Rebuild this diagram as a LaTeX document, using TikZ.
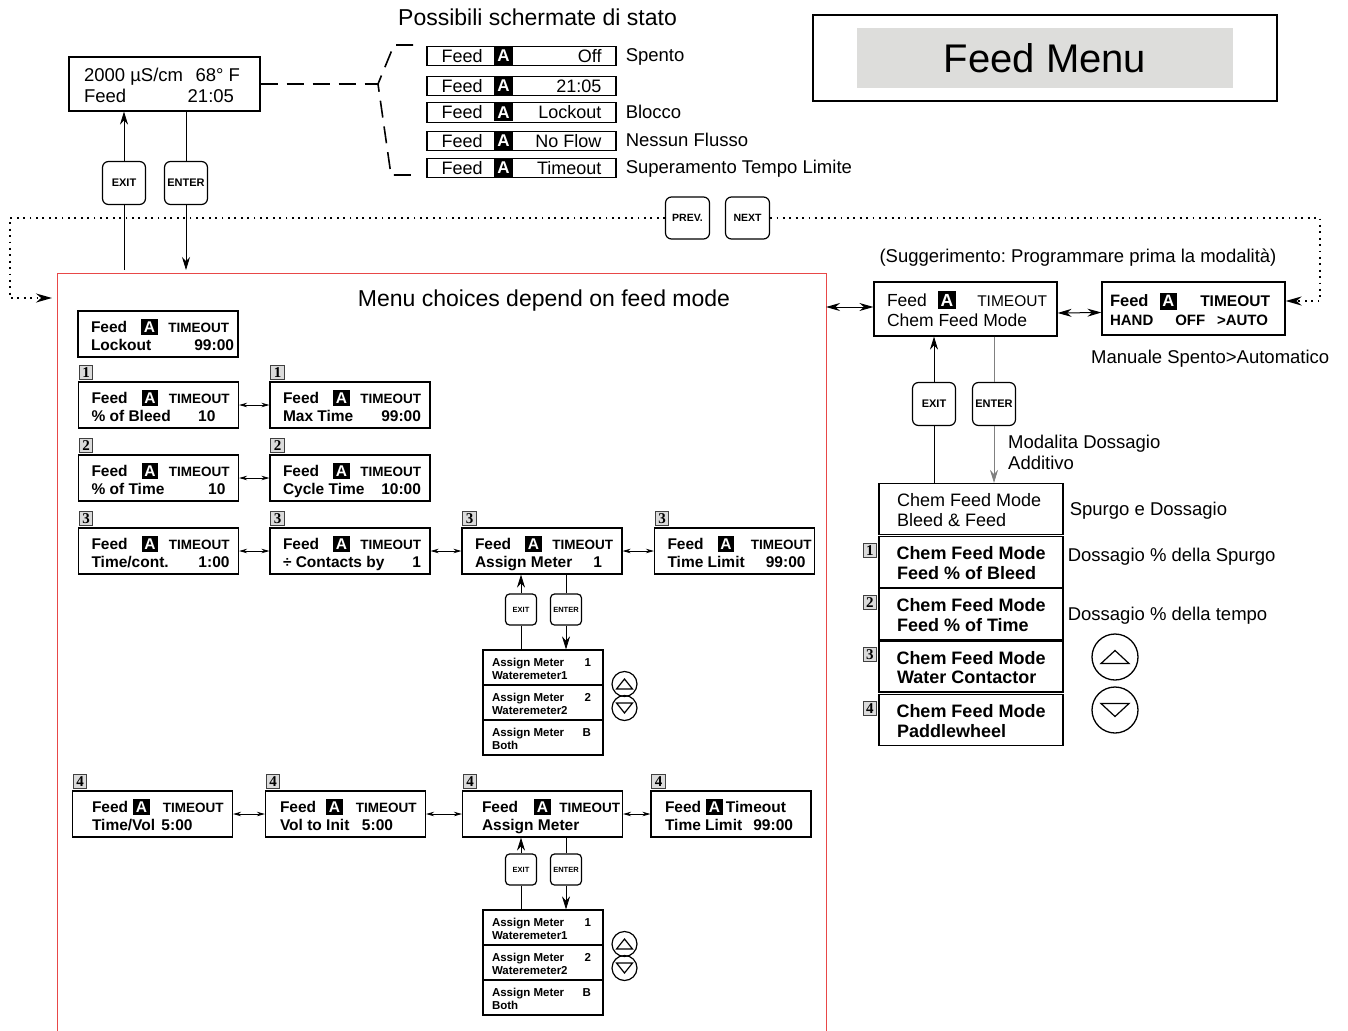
\documentclass[tikz,border=0pt]{standalone}
\usepackage{fontspec}
\setmainfont{Liberation Sans}
\newfontfamily\badgefont{Liberation Serif}
\usetikzlibrary{arrows.meta,positioning}
\frenchspacing

\definecolor{menured}{RGB}{232,72,72}
\definecolor{menugrey}{RGB}{221,221,219}

\newlength\scrw \newlength\scrh \newlength\scrd
\newcommand\scrrow[2]{\makebox[\scrw]{#1\hfill#2}}
\newcommand\scrtwo[4]{\scrrow{\rule{0pt}{\scrh}#1}{#2}\\\scrrow{\rule[-\scrd]{0pt}{\scrd}#3}{#4}}
\newcommand\blkA{{\setlength\fboxsep{2.8pt}\colorbox{black}{\textcolor{white}{\bfseries A}}}}
\newcommand\tmo[1]{{\fontsize{13.5}{18}\selectfont #1}}
\newcommand\feedA{\hspace{4pt}Feed\hspace{14pt}\blkA}
\newcommand\triup[3]{\draw[trian] ([shift={(-#2,#3)}]#1.center) -- ([shift={(#2,#3)}]#1.center) -- ([shift={(0,-#3)}]#1.center) -- cycle;}
\newcommand\tridn[3]{\draw[trian] ([shift={(-#2,-#3)}]#1.center) -- ([shift={(#2,-#3)}]#1.center) -- ([shift={(0,#3)}]#1.center) -- cycle;}

\tikzset{
  linefmt/.style n args={3}{execute at begin node={\setlength\scrw{#1}\setlength\scrh{#2}\setlength\scrd{#3}}},
  scrbox/.style={draw, line width=1.2pt, inner sep=0pt, align=left},
  fscr/.style={scrbox, minimum width=160pt, minimum height=46pt, font=\bfseries\fontsize{15.5}{18}\selectfont, linefmt={142pt}{17.5pt}{3.5pt}},
  mscr/.style={scrbox, minimum width=120pt, minimum height=35pt, font=\bfseries\fontsize{11.5}{13}\selectfont, linefmt={102pt}{13.6pt}{3pt}},
  cscr/.style={scrbox, minimum width=184pt, minimum height=51pt, font=\fontsize{18}{19.5}\selectfont, linefmt={148pt}{18.5pt}{4pt}},
  statrow/.style={scrbox, line width=1.1pt, minimum width=189pt, minimum height=19.5pt, font=\fontsize{18}{20}\selectfont, text height=13pt, text depth=0pt, linefmt={160pt}{0pt}{0pt}},
  blk/.style={fill=black, text=white, inner sep=0pt, minimum width=19pt, minimum height=18pt, font=\bfseries\fontsize{17}{17}\selectfont},
  btn/.style={draw, fill=white, line width=1.2pt, rounded corners=6pt, inner sep=0pt, minimum width=43pt, minimum height=43pt, font=\bfseries\fontsize{11}{11}\selectfont},
  sbtn/.style={btn, rounded corners=4pt, minimum width=31pt, minimum height=31pt, font=\bfseries\fontsize{7.5}{7.5}\selectfont},
  badge/.style={draw=black!75, fill=black!14, line width=0.8pt, inner sep=0pt, minimum width=13.5pt, minimum height=14pt, text height=10pt, text depth=0pt, font=\badgefont\bfseries\fontsize{15}{15}\selectfont},
  knob/.style={draw, circle, line width=1.2pt, inner sep=0pt, minimum size=25pt},
  trian/.style={line width=1.2pt, line join=miter},
  lbl/.style={inner sep=0pt, text height=13.3pt, text depth=0pt, font=\fontsize{18.5}{21}\selectfont},
  head/.style={inner sep=0pt, text height=16.5pt, text depth=0pt, font=\fontsize{23}{25}\selectfont},
  dblarr/.style={line width=0.8pt, {Stealth[length=8pt,width=4.5pt]}-{Stealth[length=8pt,width=4.5pt]}},
  bigdbl/.style={line width=1pt, {Stealth[length=14pt,width=8pt]}-{Stealth[length=14pt,width=8pt]}},
  arrowln/.style={line width=0.8pt, -{Stealth[length=13pt,width=8pt]}},
  dotloop/.style={line width=1.8pt, dash pattern=on 1.8pt off 4.6pt, -{Stealth[length=16pt,width=9pt]}},
  dashbr/.style={line width=1.6pt, dash pattern=on 17pt off 9pt},
}

\begin{document}
\begin{tikzpicture}[x=1pt,y=-1pt]
  \useasboundingbox (0,0) rectangle (1348,1030);

  % status screens
  \node[head] (stathead) at (537.5,17) {Possibili schermate di stato};
  \node[scrbox, minimum width=191pt, minimum height=54pt, font=\fontsize{18.5}{21}\selectfont, linefmt={161pt}{20pt}{4pt}] (mainscr) at (164.5,84)
    {\scrtwo{2000 µS/cm}{68° F\hspace{5pt}}{Feed}{21:05\hspace{11pt}}};
  \foreach \yy/\st/\lab [count=\i] in {56/Off/Spento, 86/21:05/{}, 112.5/Lockout/Blocco, 141/No Flow/Nessun Flusso, 168/Timeout/Superamento Tempo Limite} {
    \node[statrow] (s\i) at (521.5,\yy) {\scrrow{Feed}{\st}};
    \node[blk] (a\i) at (503.5,\yy) {A};
    \node[lbl, right=9pt of s\i, yshift=1pt] (n\i) {\lab};
  }
  \coordinate (brk) at (378,84);
  \draw[dashbr] (mainscr.east) -- (brk);
  \draw[dashbr] (413,45) -- (394,45) -- (brk) -- (391,175) -- (416,175);

  % title
  \node[draw, line width=1.3pt, minimum width=464pt, minimum height=86pt] (menuframe) at (1045,58) {};
  \node[fill=menugrey, minimum width=376pt, minimum height=60pt, inner sep=0pt, text height=29pt, text depth=0pt, font=\fontsize{40}{40}\selectfont] (menutitle) at (1045,58) {Feed Menu};

  % keys to the menu
  \node[btn] (exit0) at (124,183) {EXIT};
  \node[btn] (enter0) at (186,183) {ENTER};
  \coordinate (stop) at (0,270);
  \draw[line width=0.8pt] (exit0 |- stop) -- (exit0.south);
  \draw[arrowln] (exit0.north) -- (exit0 |- mainscr.south);
  \draw[line width=0.8pt] (enter0 |- mainscr.south) -- (enter0.north);
  \draw[arrowln] (enter0.south) -- (enter0 |- stop);
  \node[btn, minimum width=44pt, minimum height=42pt, font=\bfseries\fontsize{10.5}{10.5}\selectfont] (prev) at (687.5,218) {PREV.};
  \node[btn, minimum width=44pt, minimum height=42pt, font=\bfseries\fontsize{10.5}{10.5}\selectfont] (next) at (747.5,218) {NEXT};

  % menu choices
  \draw[menured, line width=1pt] (57,1040) |- (826,273) -- (826,1040);
  \node[head] (menuhead) at (544,298) {Menu choices depend on feed mode};
  \node[fscr] (lock) at (158,334) {\scrtwo{\feedA}{\tmo{TIMEOUT}}{\hspace{4pt}Lockout}{99:00\kern-5pt}};
  \node[fscr] (bleed) at (158.5,405) {\scrtwo{\feedA}{\tmo{TIMEOUT}}{\hspace{4pt}\% of Bleed}{10\hspace{14pt}}};
  \node[fscr] (maxt) at (350,405) {\scrtwo{\feedA}{\tmo{TIMEOUT}}{\hspace{4pt}Max Time}{99:00}};
  \node[fscr] (ptime) at (158.5,478) {\scrtwo{\feedA}{\tmo{TIMEOUT}}{\hspace{4pt}\% of Time}{10\hspace{4pt}}};
  \node[fscr] (cyc) at (350,478) {\scrtwo{\feedA}{\tmo{TIMEOUT}}{\hspace{4pt}Cycle Time}{10:00}};
  \node[fscr] (tcont) at (158.5,551) {\scrtwo{\feedA}{\tmo{TIMEOUT}}{\hspace{4pt}Time/cont.}{1:00}};
  \node[fscr] (cont) at (350,551) {\scrtwo{\feedA}{\tmo{TIMEOUT}}{\hspace{4pt}÷ Contacts by}{1}};
  \node[fscr] (asg3) at (542,551) {\scrtwo{\feedA}{\tmo{TIMEOUT}}{\hspace{4pt}Assign Meter}{1\hspace{11pt}}};
  \node[fscr] (tlim3) at (734.5,551) {\scrtwo{\feedA}{\tmo{TIMEOUT}\kern-6pt}{\hspace{4pt}Time Limit}{99:00}};
  \node[fscr] (tvol) at (152.5,814) {\scrtwo{\hspace{10.5pt}Feed\hspace{5pt}\blkA}{\tmo{TIMEOUT}}{\hspace{10.5pt}Time/Vol}{5:00\hspace{31pt}}};
  \node[fscr] (vinit) at (345.5,814) {\scrtwo{\hspace{5.5pt}Feed\hspace{10pt}\blkA}{\tmo{TIMEOUT}}{\hspace{5.5pt}Vol to Init}{5:00\hspace{23.5pt}}};
  \node[fscr] (asg4) at (542.5,814) {\scrtwo{\hspace{10.5pt}Feed\hspace{16pt}\blkA}{\tmo{TIMEOUT}\kern-6.5pt}{\hspace{10.5pt}Assign Meter}{}};
  \node[fscr] (tlim4) at (731,814) {\scrtwo{\hspace{5pt}Feed\hspace{5pt}\blkA\hspace{3pt}Timeout}{}{\hspace{5pt}Time Limit}{99:00\hspace{9pt}}};
  \foreach \nm/\k in {bleed/1, maxt/1, ptime/2, cyc/2, tcont/3, cont/3, asg3/3, tlim3/3, tvol/4, vinit/4, asg4/4, tlim4/4}
    \node[badge, above right=2pt and 1pt of \nm.north west] (bd-\nm) {\k};
  \foreach \a/\b in {bleed/maxt, ptime/cyc, tcont/cont, cont/asg3, asg3/tlim3, tvol/vinit, vinit/asg4, asg4/tlim4}
    \draw[dblarr] (\a.east) -- (\b.west);

  % meter lists
  \foreach \s/\yy in {3/667.5, 4/927.5} {
    \node[mscr] (m\s1) at (543,\yy) {\scrtwo{Assign Meter}{1\hspace{3pt}}{Wateremeter1}{}};
    \node[mscr] (m\s2) at (543,\yy+35) {\scrtwo{Assign Meter}{2\hspace{3pt}}{Wateremeter2}{}};
    \node[mscr] (m\s3) at (543,\yy+70) {\scrtwo{Assign Meter}{B\hspace{3pt}}{Both}{}};
    \node[sbtn] (ex\s) at (521,\yy-58) {EXIT};
    \node[sbtn] (en\s) at (566,\yy-58) {ENTER};
    \draw[line width=0.8pt] (ex\s.south) -- (ex\s |- m\s1.north);
    \draw[arrowln] (ex\s.north) -- (ex\s |- asg\s.south);
    \draw[line width=0.8pt] (en\s |- asg\s.south) -- (en\s.north);
    \draw[arrowln] (en\s.south) -- (en\s |- m\s1.north);
    \node[knob] (up\s) at (624.5,\yy+16.5) {};
    \node[knob] (dn\s) at (624.5,\yy+40.5) {};
    \triup{up\s}{8}{5}
    \tridn{dn\s}{8}{5}
  }

  % chem feed mode
  \node[lbl] (hint) at (1078,256) {(Suggerimento: Programmare prima la modalità)};
  \node[scrbox, minimum width=183pt, minimum height=54pt, font=\fontsize{17.5}{20}\selectfont, linefmt={163pt}{18pt}{4pt}] (chem) at (965.5,309)
    {\scrtwo{\hspace{3pt}Feed\hspace{11pt}\blkA}{{\fontsize{15.5}{20}\selectfont TIMEOUT}}{\hspace{3pt}Chem Feed Mode}{}};
  \node[scrbox, minimum width=183pt, minimum height=53pt, font=\bfseries\fontsize{16.5}{19}\selectfont, linefmt={167pt}{19.4pt}{4pt}] (hand) at (1193.5,308.5)
    {\scrtwo{Feed\hspace{11pt}\blkA}{{\fontsize{15.5}{19}\selectfont TIMEOUT}\hspace{7pt}}{{\fontsize{15}{19}\selectfont HAND\hspace{22pt}OFF}}{{\fontsize{15}{19}\selectfont >AUTO}\hspace{9pt}}};
  \node[lbl, anchor=west] (handnote) at (1091,357) {Manuale Spento>Automatico};
  \coordinate (menuR) at (826,307);
  \draw[bigdbl] (menuR) -- (menuR -| chem.west);
  \draw[bigdbl] ([yshift=-4pt]chem.east) -- ([yshift=-4pt]hand.west);

  \node[btn] (exit2) at (934,404) {EXIT};
  \node[btn] (enter2) at (994,404) {ENTER};
  \node[inner sep=0pt, anchor=west, align=left, font=\fontsize{18.5}{21}\selectfont] (modenote) at (1008,452) {Modalita Dossagio\\Additivo};
  \node[cscr] (c0) at (971,509) {\scrtwo{Chem Feed Mode}{}{Bleed \& Feed}{}};
  \foreach \k/\yy/\txt in {1/562/Feed \% of Bleed, 2/614/Feed \% of Time, 3/666.5/Water Contactor, 4/720/Paddlewheel} {
    \node[cscr, font=\bfseries\fontsize{18}{19.5}\selectfont] (c\k) at (971,\yy) {\scrtwo{Chem Feed Mode}{}{\txt}{}};
    \node[badge, anchor=north east] (cb\k) at ([shift={(-1.5pt,-7pt)}]c\k.north west) {\k};
  }
  \draw[line width=0.8pt] (exit2.south) -- (exit2 |- c0.north);
  \draw[arrowln] (exit2.north) -- (exit2 |- chem.south);
  \draw[line width=0.8pt, black!50] (enter2 |- chem.south) -- (enter2.north);
  \draw[arrowln, black!50] (enter2.south) -- (enter2 |- c0.north);
  \node[lbl, right=6pt of c0] (lab0) {Spurgo e Dossagio};
  \node[lbl, right=4pt of c1, yshift=7pt] (lab1) {Dossagio \% della Spurgo};
  \node[lbl, right=4pt of c2] (lab2) {Dossagio \% della tempo};
  \node[knob, minimum size=46pt, line width=1.3pt] (bigup) at (1115,657) {};
  \node[knob, minimum size=46pt, line width=1.3pt] (bigdn) at (1115,710) {};
  \triup{bigup}{14}{6.5}
  \tridn{bigdn}{14}{6.5}

  % prev / next loop
  \coordinate (loopin) at (52,298);
  \draw[dotloop] (prev.west) -- (10,218) -- (10,298) -- (loopin);
  \draw[dotloop] (next.east) -- (1320,218) -- (1320,301) -- (hand.east |- 0,301);
\end{tikzpicture}
\end{document}
